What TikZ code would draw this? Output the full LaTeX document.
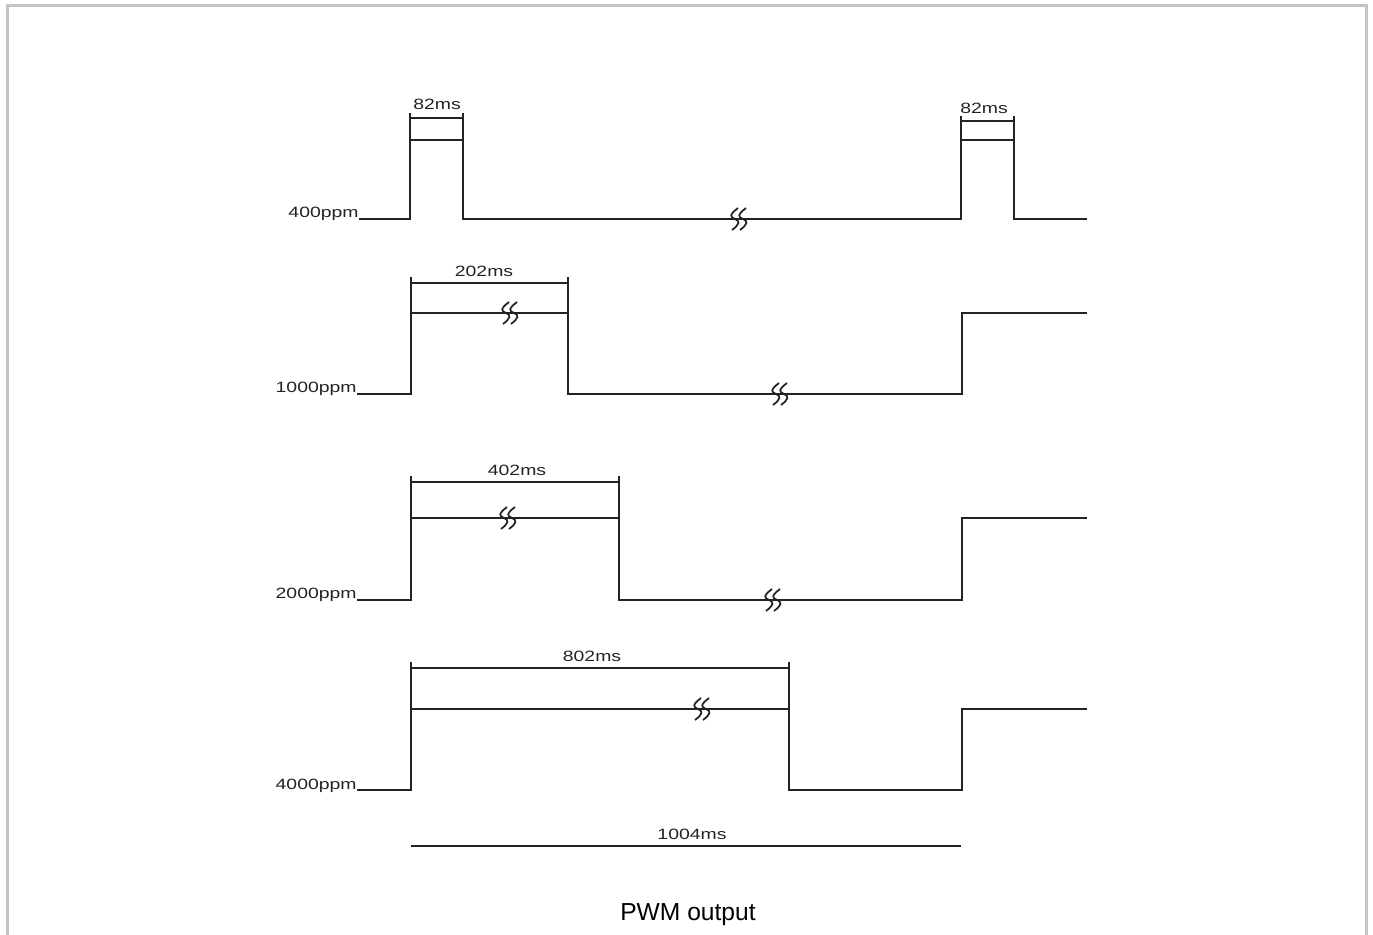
\documentclass[tikz,border=0pt]{standalone}
\usepackage{fontspec}
\setmainfont{Liberation Sans}
\newfontfamily\lblfont[FakeStretch=1.3]{Liberation Sans}
\usetikzlibrary{positioning}
\definecolor{framegray}{RGB}{196,196,196}
\definecolor{ink}{RGB}{35,35,35}

\tikzset{
  wave/.style={draw=ink, line width=1.15pt},
  dimline/.style={draw=ink, line width=0.9pt},
  lvl/.style={font=\lblfont\fontsize{8.5}{10}\selectfont, text=ink, inner sep=0pt, anchor=base east},
  dimlbl/.style={font=\lblfont\fontsize{8.5}{10}\selectfont, text=ink, inner sep=0pt, anchor=base},
  brk/.pic={
    \draw[ink, line width=1pt] (-1,-11) .. controls (-10,-4) and (-9,-2) .. (-4,0) .. controls (1,2) and (1,5) .. (-7,11);
    \draw[ink, line width=1pt] (7,-11) .. controls (-2,-4) and (-1,-2) .. (4,0) .. controls (9,2) and (9,5) .. (1,11);
  }
}

\begin{document}
\begin{tikzpicture}[x=0.02cm, y=-0.02cm]
  \useasboundingbox (0,0) rectangle (1373,935);
  % frame
  \draw[framegray, line width=1.7pt] (7.5,935) -- (7.5,5.5) -- (1366.5,5.5) -- (1366.5,935);

  % 400ppm
  \node[lvl] (l400) at (359,218) {400ppm};
  \draw[wave] (l400.base east) ++(0,1) -- (410,219) -- (410,140) -- (463,140) -- (463,219)
    -- (961,219) -- (961,140) -- (1014,140) -- (1014,219) -- (1087,219);
  \draw[wave] (410,140) -- (410,113) (463,140) -- (463,113);
  \draw[wave] (961,140) -- (961,116) (1014,140) -- (1014,116);
  \draw[dimline] (410,118) -- (463,118);
  \draw[dimline] (961,121) -- (1014,121);
  \node[dimlbl] (d82a) at (437,110) {82ms};
  \node[dimlbl] (d82b) at (984,114) {82ms};
  \pic at (739,219) {brk};

  % 1000ppm, 2000ppm, 4000ppm
  \foreach \lo/\hi/\fall/\dim/\txt/\dtxt/\dx/\bx in
      {394/313/568/283/1000ppm/202ms/484/510,
       600/518/619/482/2000ppm/402ms/517/508,
       790/709/789/668/4000ppm/802ms/592/702}{
    \node[lvl] (l\txt) at (357,\lo-1) {\txt};
    \draw[wave] (l\txt.base east) ++(0,1) -- (411,\lo) -- (411,\hi) -- (\fall,\hi) -- (\fall,\lo)
      -- (962,\lo) -- (962,\hi) -- (1087,\hi);
    \draw[wave] (411,\hi) -- (411,\dim-6) (\fall,\hi) -- (\fall,\dim-6);
    \draw[dimline] (411,\dim) -- (\fall,\dim);
    \node[dimlbl] (d\dtxt) at (\dx,\dim-6) {\dtxt};
    \pic at (\bx,\hi) {brk};
  }
  \pic at (780,394) {brk};
  \pic at (773,600) {brk};

  % period
  \draw[dimline] (411,846) -- (961,846);
  \node[dimlbl] (per) at (692,839) {1004ms};

  \node[font=\fontsize{14}{16}\selectfont, anchor=base] (cap) at (688,920) {PWM output};
\end{tikzpicture}
\end{document}
